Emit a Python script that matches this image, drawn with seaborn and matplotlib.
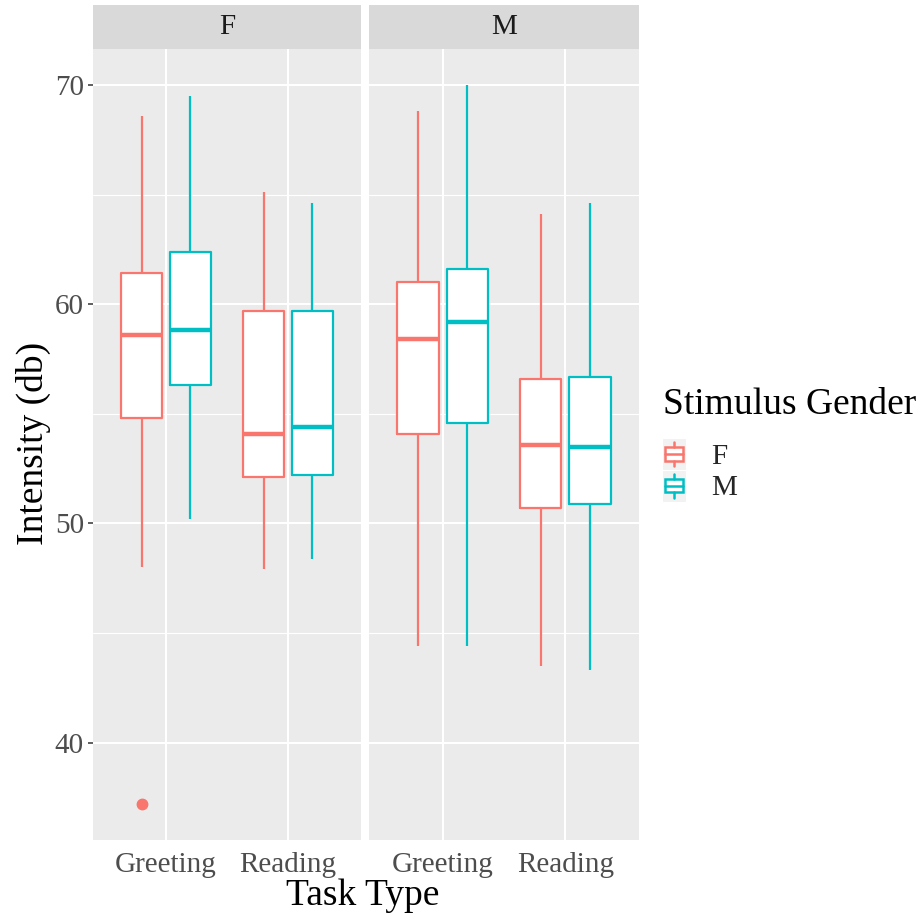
import numpy as np
import pandas as pd
import seaborn as sns
import matplotlib
matplotlib.use("Agg")
import matplotlib.pyplot as plt
from matplotlib.legend_handler import HandlerBase
from matplotlib.patches import Rectangle, Patch
from matplotlib.lines import Line2D

# ---------------- data ----------------
facets = ["F", "M"]
tasks = ["Greeting", "Reading"]
stim_genders = ["F", "M"]
# group order: facet F -> (Greeting,F),(Greeting,M),(Reading,F),(Reading,M); then facet M
group_facet = ["F", "F", "F", "F", "M", "M", "M", "M"]
group_task = ["Greeting", "Greeting", "Reading", "Reading",
              "Greeting", "Greeting", "Reading", "Reading"]
group_stim = ["F", "M", "F", "M", "F", "M", "F", "M"]
whisker_low = [48.0, 50.2, 47.9, 48.4, 44.4, 44.4, 43.5, 43.3]
q1 = [54.8, 56.3, 52.1, 52.2, 54.1, 54.6, 50.7, 50.9]
median = [58.6, 58.8, 54.1, 54.4, 58.4, 59.2, 53.6, 53.5]
q3 = [61.4, 62.4, 59.7, 59.7, 61.0, 61.6, 56.6, 56.7]
whisker_high = [68.6, 69.5, 65.1, 64.6, 68.8, 70.0, 64.1, 64.6]
outliers = [[37.2], [], [], [], [], [], [], []]
y_ticks = [40, 50, 60, 70]
y_minor = [45, 55, 65]

palette = {"F": "#F8766D", "M": "#00BFC4"}

# build observations whose quartiles / whiskers reproduce the summary above
rows = []
for i in range(len(group_facet)):
    if outliers[i]:
        vals = outliers[i] + [whisker_low[i], q1[i], q1[i], median[i],
                              q3[i], q3[i], whisker_high[i], whisker_high[i]]
    else:
        vals = [whisker_low[i], q1[i], median[i], q3[i], whisker_high[i]]
    for v in vals:
        rows.append({"facet": group_facet[i], "task": group_task[i],
                     "stim": group_stim[i], "value": v})
df = pd.DataFrame(rows)

# ---------------- style ----------------
sns.set_style("white")
plt.rcParams["font.family"] = ["Liberation Serif", "DejaVu Serif"]

W, H = 921, 917
fig = plt.figure(figsize=(W / 100, H / 100), dpi=100)

def fx(px):
    return px / W

def fy(px):
    return 1 - px / H

panel_top, panel_bot = 49, 840
panels_x = [(93, 361), (369, 639)]

vmin, vmax = df["value"].min(), df["value"].max()
pad = 0.05 * (vmax - vmin)

axes = []
for k, facet in enumerate(facets):
    x0, x1 = panels_x[k]
    ax = fig.add_axes([fx(x0), fy(panel_bot), fx(x1 - x0), (panel_bot - panel_top) / H])
    axes.append(ax)
    ax.set_facecolor("#EBEBEB")
    sub = df[df["facet"] == facet]
    common = dict(data=sub, x="task", y="value", hue="stim", order=tasks,
                  hue_order=stim_genders, width=0.8, gap=0.16, showcaps=False,
                  ax=ax, legend=False)
    # white filled boxes underneath
    sns.boxplot(palette={"F": "white", "M": "white"}, fill=True, linewidth=0,
                showfliers=False, **common)
    # coloured outlines on top
    sns.boxplot(palette=palette, fill=False, linewidth=1.6,
                medianprops={"linewidth": 3.2},
                flierprops={"marker": "o", "markersize": 7.5},
                **common)
    for ln in ax.lines:
        if ln.get_marker() not in (None, "None", "", " "):
            ln.set_markerfacecolor(ln.get_markeredgecolor())
    ax.set_ylim(vmin - pad, vmax + pad)
    ax.set_xlim(-0.6, 1.6)
    ax.set_yticks(y_ticks)
    ax.set_yticks(y_minor, minor=True)
    ax.grid(True, which="major", color="white", linewidth=1.5)
    ax.grid(True, which="minor", axis="y", color="white", linewidth=0.8)
    ax.set_axisbelow(True)
    for s in ax.spines.values():
        s.set_visible(False)
    ax.set_xlabel("")
    ax.set_ylabel("")
    ax.tick_params(axis="x", which="major", length=3.5, width=1.1, color="#333333",
                   labelsize=21, labelcolor="#4D4D4D", pad=5)
    ax.tick_params(axis="y", which="major", length=3.5, width=1.1, color="#333333",
                   labelsize=21, labelcolor="#4D4D4D", pad=3, left=True)
    ax.tick_params(axis="y", which="minor", length=0)
    if k > 0:
        ax.tick_params(axis="y", which="major", length=0, labelleft=False)

    # strip
    sx = fig.add_axes([fx(x0), fy(panel_top), fx(x1 - x0), (panel_top - 5) / H])
    sx.set_facecolor("#D9D9D9")
    sx.set_xticks([])
    sx.set_yticks([])
    for s in sx.spines.values():
        s.set_visible(False)
    sx.text(0.5, 0.5, facet, ha="center", va="center", fontsize=21,
            color="#1A1A1A", transform=sx.transAxes)

fig.text(fx(33), fy(443), "Intensity (db)", rotation=90, ha="center",
         va="center", fontsize=27, color="black")
fig.text(fx(363), fy(896), "Task Type", ha="center", va="center",
         fontsize=27, color="black")


class BoxKey(HandlerBase):
    def create_artists(self, legend, orig_handle, xdescent, ydescent, width,
                       height, fontsize, trans):
        c = orig_handle.get_edgecolor()
        x0, y0 = -xdescent, -ydescent
        bg = Rectangle((x0, y0), width, height, facecolor="#F2F2F2",
                       edgecolor="white", lw=0.8, transform=trans)
        cx = x0 + width / 2
        bw, bh = width * 0.72, height * 0.42
        by = y0 + (height - bh) / 2
        box = Rectangle((cx - bw / 2, by), bw, bh, facecolor="white",
                        edgecolor=c, lw=1.8, transform=trans)
        med = Line2D([cx - bw / 2, cx + bw / 2], [y0 + height / 2] * 2,
                     color=c, lw=1.8, transform=trans)
        wl = Line2D([cx, cx], [y0 + height * 0.12, by], color=c, lw=1.8,
                    transform=trans)
        wh = Line2D([cx, cx], [by + bh, y0 + height * 0.88], color=c, lw=1.8,
                    transform=trans)
        return [bg, box, med, wl, wh]


fig.text(fx(663), fy(405), "Stimulus Gender", ha="left", va="center",
         fontsize=27, color="black")
handles = [Patch(facecolor="white", edgecolor=palette[g]) for g in stim_genders]
leg = fig.legend(handles, stim_genders,
                 loc="upper left", bbox_to_anchor=(fx(662), fy(438)),
                 frameon=False, fontsize=21, borderpad=0,
                 handler_map={Patch: BoxKey()}, handlelength=0.82,
                 handleheight=1.3, labelspacing=0.0, handletextpad=0.85,
                 borderaxespad=0)

fig.savefig("out.png", dpi=100)
